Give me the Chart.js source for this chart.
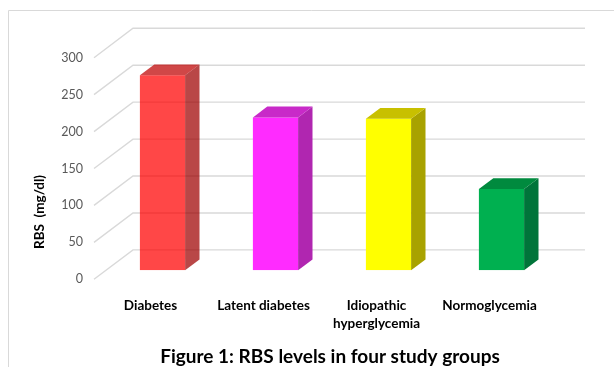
<!DOCTYPE html>
<html>
<head>
<meta charset="utf-8">
<script src="https://cdn.jsdelivr.net/npm/chart.js@4.4.1/dist/chart.umd.min.js"></script>
<style>
  html, body { margin: 0; padding: 0; background: #fff; }
  #wrap { width: 614px; height: 367px; }
</style>
</head>
<body>
<div id="wrap"><canvas id="bar-chart" width="614" height="367"></canvas></div>
<script>
const grupos = ["Diabetes", "Latent diabetes", ["Idiopathic", "hyperglycemia"], "Normoglycemia"];
const rbs = [264, 207, 205, 110];
const corFrente = ["rgba(255,0,0,0.72)", "#ff2bff", "#ffff00", "#00b050"];
const corLado = ["rgba(158,0,0,0.72)", "#b026b0", "#a8a200", "#00743a"];
const corTopo = ["rgba(190,0,0,0.72)", "#c82ac8", "#c8c000", "#008a3e"];
const yTicks = [0, 50, 100, 150, 200, 250, 300];

const fonte = "Lato, 'Open Sans', sans-serif";

// profundidade do "3D"
const fundo = { dx: 39, dy: -29.4 };   // parede do fundo
const plano = { dx: 12, dy: -9 };      // frente das barras
const prof = { dx: 14.4, dy: -10.8 };  // espessura das barras

const tresD = {
  id: "tresD",
  beforeDraw(chart) {
    const ctx = chart.ctx;
    ctx.save();
    ctx.strokeStyle = "#d9d9d9";
    ctx.lineWidth = 1;
    ctx.beginPath();
    ctx.moveTo(8.5, 367);
    ctx.lineTo(8.5, 10.5);
    ctx.lineTo(614, 10.5);
    ctx.stroke();
    ctx.restore();
  },
  beforeDatasetsDraw(chart) {
    const ctx = chart.ctx;
    const area = chart.chartArea;
    const y = chart.scales.y;
    ctx.save();
    ctx.strokeStyle = "#d9d9d9";
    ctx.lineWidth = 1.4;
    yTicks.forEach(v => {
      const py = y.getPixelForValue(v);
      ctx.beginPath();
      ctx.moveTo(area.left, py);
      ctx.lineTo(area.left + fundo.dx, py + fundo.dy);
      ctx.lineTo(area.right + fundo.dx, py + fundo.dy);
      ctx.stroke();
    });
    ctx.restore();
    ctx.save();
    ctx.translate(plano.dx, plano.dy);
  },
  afterDatasetsDraw(chart) {
    const ctx = chart.ctx;
    const meta = chart.getDatasetMeta(0);
    meta.data.forEach((bar, i) => {
      const p = bar.getProps(["x", "y", "base", "width"], true);
      const l = p.x - p.width / 2;
      const r = p.x + p.width / 2;
      ctx.fillStyle = corLado[i];
      ctx.beginPath();
      ctx.moveTo(r, p.y);
      ctx.lineTo(r + prof.dx, p.y + prof.dy);
      ctx.lineTo(r + prof.dx, p.base + prof.dy);
      ctx.lineTo(r, p.base);
      ctx.closePath();
      ctx.fill();
      ctx.fillStyle = corTopo[i];
      ctx.beginPath();
      ctx.moveTo(l, p.y);
      ctx.lineTo(l + prof.dx, p.y + prof.dy);
      ctx.lineTo(r + prof.dx, p.y + prof.dy);
      ctx.lineTo(r, p.y);
      ctx.closePath();
      ctx.fill();
    });
    ctx.restore();
  },
  afterDraw(chart) {
    const ctx = chart.ctx;
    ctx.save();
    ctx.fillStyle = "#000";
    ctx.textAlign = "center";
    ctx.textBaseline = "middle";
    ctx.font = "bold 13.5px " + fonte;
    ctx.translate(40, 212);
    ctx.rotate(-Math.PI / 2);
    ctx.fillText("RBS  (mg/dl)", 0, 0);
    ctx.restore();
    ctx.save();
    ctx.fillStyle = "#000";
    ctx.textAlign = "center";
    ctx.textBaseline = "middle";
    ctx.font = "bold 19px " + fonte;
    ctx.fillText("Figure 1: RBS levels in four study groups", 330, 357);
    ctx.restore();
  }
};

const config = {
  type: "bar",
  data: {
    labels: grupos,
    datasets: [{
      data: rbs,
      backgroundColor: corFrente,
      borderWidth: 0,
      barPercentage: 0.5,
      categoryPercentage: 0.8,
    }],
  },
  options: {
    responsive: false,
    animation: false,
    layout: { padding: { left: 0, top: 57.7, right: 68, bottom: 0 } },
    plugins: {
      legend: { display: false },
      tooltip: { enabled: false },
    },
    scales: {
      x: {
        grid: { display: false },
        border: { display: false },
        ticks: {
          color: "#000",
          font: { family: fonte, size: 13.5, weight: "bold", lineHeight: 1.33 },
          padding: 9,
          maxRotation: 0,
          autoSkip: false,
        },
        afterFit: s => { s.height = 87.7; },
      },
      y: {
        min: 0,
        max: 300,
        grid: { display: false },
        border: { display: false },
        ticks: {
          stepSize: 50,
          color: "#595959",
          font: { family: fonte, size: 12.5 },
          padding: 3,
        },
        afterFit: s => { s.width = 94; },
      },
    },
  },
  plugins: [tresD],
};

const ctx = document.getElementById("bar-chart").getContext("2d");
const rbsChart = new Chart(ctx, config);
</script>
</body>
</html>
